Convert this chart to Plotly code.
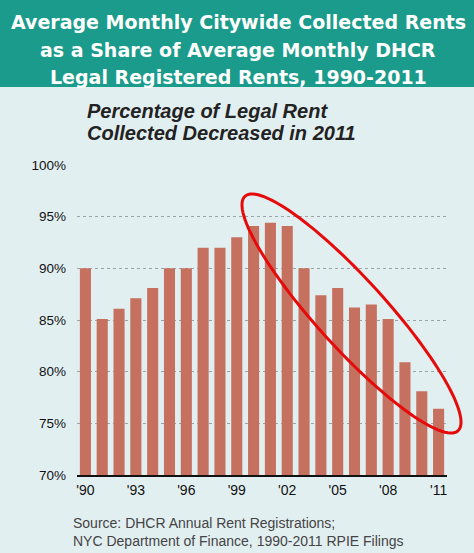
import numpy as np
import plotly.graph_objects as go

years = list(range(1990, 2012))
share = [90.0, 85.1, 86.1, 87.1, 88.1, 90.0, 90.0, 92.0, 92.0, 93.0, 94.1,
         94.4, 94.1, 90.0, 87.4, 88.1, 86.2, 86.5, 85.1, 80.9, 78.1, 76.4]
xtick_vals = [1990, 1993, 1996, 1999, 2002, 2005, 2008, 2011]
xtick_text = ["'90", "'93", "'96", "'99", "'02", "'05", "'08", "'11"]
ytick_vals = [70, 75, 80, 85, 90, 95, 100]
ytick_text = ["70%", "75%", "80%", "85%", "90%", "95%", "100%"]
title_lines = ["Average Monthly Citywide Collected Rents",
               "as a Share of Average Monthly DHCR",
               "Legal Registered Rents, 1990-2011"]
subtitle_lines = ["Percentage of Legal Rent", "Collected Decreased in 2011"]
source_lines = ["Source: DHCR Annual Rent Registrations;",
                "NYC Department of Finance, 1990-2011 RPIE Filings"]

W, H = 474, 553
L, R, T, B = 77, 27, 165, 78
PW, PH = W - L - R, H - T - B

def px(x):
    return (x - L) / PW

def py(y):
    return (H - B - y) / PH

BG = "#e2eff1"
TEAL = "#1b9b8b"
BAR = "#c6705f"

fig = go.Figure()
fig.add_trace(go.Bar(x=years, y=share, marker=dict(color=BAR, line=dict(width=0)),
                     hoverinfo="x+y"))

shapes = []
shapes.append(dict(type="rect", xref="paper", yref="paper", x0=px(0), x1=px(W),
                   y0=py(87), y1=py(0), fillcolor=TEAL, line=dict(width=0), layer="below"))
cx, cy, a, b, th = 351.5, 313.5, 158.4, 34.5, np.deg2rad(47.75)
t = np.linspace(0, 2 * np.pi, 121)
ex = cx + a * np.cos(t) * np.cos(th) - b * np.sin(t) * np.sin(th)
ey = cy + a * np.cos(t) * np.sin(th) + b * np.sin(t) * np.cos(th)
path = "M " + " L ".join(f"{px(x):.5f},{py(y):.5f}" for x, y in zip(ex, ey)) + " Z"
shapes.append(dict(type="path", xref="paper", yref="paper", path=path,
                   line=dict(color="#e50b0b", width=3), layer="above"))

annotations = []
for i, s in enumerate(title_lines):
    annotations.append(dict(text=f"<b>{s}</b>", xref="paper", yref="paper",
                            x=px(W / 2 + 1), y=py(22 + 27.5 * i), xanchor="center", yanchor="middle",
                            showarrow=False,
                            font=dict(family="DejaVu Sans", size=19, color="white")))
for i, s in enumerate(subtitle_lines):
    annotations.append(dict(text=f"<b><i>{s}</i></b>", xref="paper", yref="paper",
                            x=px(85), y=py(111 + 22 * i), xanchor="left", yanchor="middle",
                            showarrow=False,
                            font=dict(family="Liberation Sans, Arial", size=20, color="#222222")))
for i, s in enumerate(source_lines):
    annotations.append(dict(text=s, xref="paper", yref="paper",
                            x=px(71), y=py(523 + 18 * i), xanchor="left", yanchor="middle",
                            showarrow=False,
                            font=dict(family="Liberation Sans, Arial", size=14, color="#444444")))

fig.update_layout(
    width=W, height=H,
    margin=dict(l=L, r=R, t=T, b=B, pad=0),
    paper_bgcolor=BG, plot_bgcolor=BG,
    showlegend=False, bargap=0.34,
    shapes=shapes, annotations=annotations,
    font=dict(family="Liberation Sans, Arial", color="#111111"),
)
fig.update_xaxes(range=[1989.5, 2011.5], tickvals=xtick_vals, ticktext=xtick_text,
                 showgrid=False, showline=True, linecolor="#111111", linewidth=2,
                 ticks="", tickfont=dict(size=14), ticklabelstandoff=1, zeroline=False)
fig.update_yaxes(range=[70, 100], tickvals=ytick_vals, ticktext=ytick_text,
                 showgrid=True, gridcolor="#9aa5a8", griddash="dot", gridwidth=1,
                 ticks="", tickfont=dict(size=13.5), ticklabelstandoff=10,
                 zeroline=False, showline=False)

fig.write_html("out.html", config={"displayModeBar": False},
               post_script="document.body.style.margin='0px';document.body.style.overflow='hidden';")
